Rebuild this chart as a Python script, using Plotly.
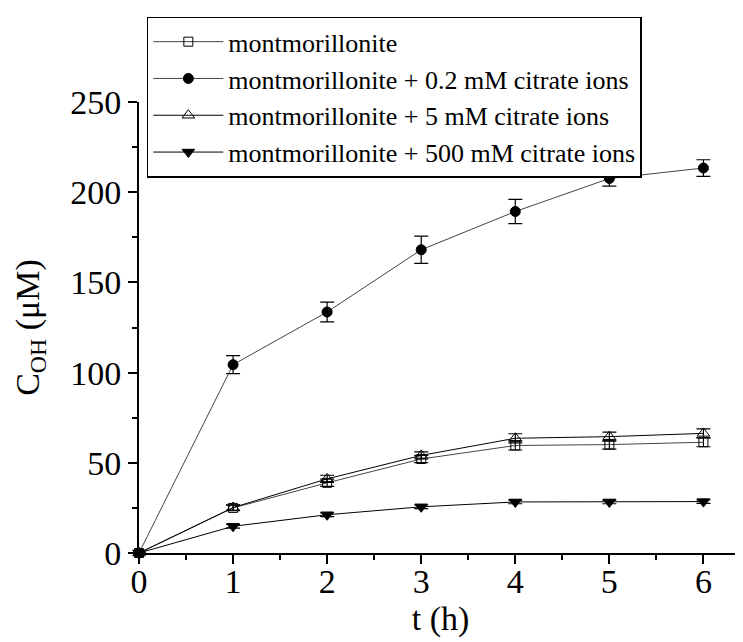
import plotly.graph_objects as go

t_hours = [0, 1, 2, 3, 4, 5, 6]

mont = [0, 25.0, 38.9, 52.1, 59.6, 60.1, 61.4]
mont_err = [0, 1.5, 2.0, 2.0, 2.5, 2.5, 2.5]

cit_02 = [0, 104.4, 133.6, 168.1, 189.3, 207.6, 213.4]
cit_02_err = [0, 5.0, 5.5, 7.5, 6.7, 4.2, 4.6]

cit_5 = [0, 25.2, 41.1, 54.1, 63.6, 64.5, 66.3]
cit_5_err = [0, 1.5, 2.0, 2.0, 2.5, 2.5, 2.5]

cit_500 = [0, 14.8, 21.2, 25.6, 28.3, 28.3, 28.5]
cit_500_err = [0, 1.0, 1.0, 1.0, 1.0, 1.0, 1.0]

names = [
    "montmorillonite",
    "montmorillonite + 0.2 mM citrate ions",
    "montmorillonite + 5 mM citrate ions",
    "montmorillonite + 500 mM citrate ions",
]

FONT = "Liberation Serif, Times New Roman, serif"

series = [
    (mont, mont_err, names[0], "square-open", 9, "#444"),
    (cit_02, cit_02_err, names[1], "circle", 10, "#444"),
    (cit_5, cit_5_err, names[2], "triangle-up-open", 11, "black"),
    (cit_500, cit_500_err, names[3], "triangle-down", 11, "black"),
]

fig = go.Figure()
for y, err, name, sym, size, lc in series:
    fig.add_trace(go.Scatter(
        x=t_hours, y=y, name=name, mode="lines+markers",
        line=dict(color=lc, width=1),
        marker=dict(symbol=sym, size=size, color="black",
                    line=dict(color="black", width=1)),
        error_y=dict(type="data", array=err, visible=True,
                     color="black", thickness=1.2, width=7),
        cliponaxis=False,
    ))

axis_common = dict(
    showgrid=False, zeroline=False, showline=True, automargin=False,
    linecolor="black", linewidth=2,
    ticks="outside", ticklen=9, tickwidth=2, tickcolor="black",
    tickfont=dict(family=FONT, size=34, color="black"),
    mirror=False,
)

fig.update_xaxes(
    **axis_common,
    range=[0, 6.41], tickvals=list(range(0, 7)),
    ticklabelstandoff=-12,
    minor=dict(ticks="outside", ticklen=5, tickwidth=2, tickcolor="black", dtick=0.5, tick0=0),
    title=dict(text="t (h)", font=dict(family=FONT, size=34, color="black"), standoff=6),
)
fig.update_yaxes(
    **axis_common,
    range=[0, 250], tickvals=[0, 50, 100, 150, 200, 250],
    minor=dict(ticks="outside", ticklen=5, tickwidth=2, tickcolor="black", dtick=25, tick0=0),
    title=dict(text="C<sub>OH</sub> (μM)", font=dict(family=FONT, size=34, color="black"), standoff=20),
)

# page body adds an 8px offset, so margins are shifted to compensate
fig.update_layout(
    width=743, height=642,
    margin=dict(l=131, r=9, t=88, b=97),
    plot_bgcolor="white", paper_bgcolor="white",
    font=dict(family=FONT, color="black"),
    legend=dict(
        x=0.013, y=1.189, xanchor="left", yanchor="top",
        bordercolor="black", borderwidth=1.5, bgcolor="white",
        font=dict(family=FONT, size=26, color="black"),
        itemwidth=70, tracegroupgap=0,
    ),
)

fig.write_html("out.html")
